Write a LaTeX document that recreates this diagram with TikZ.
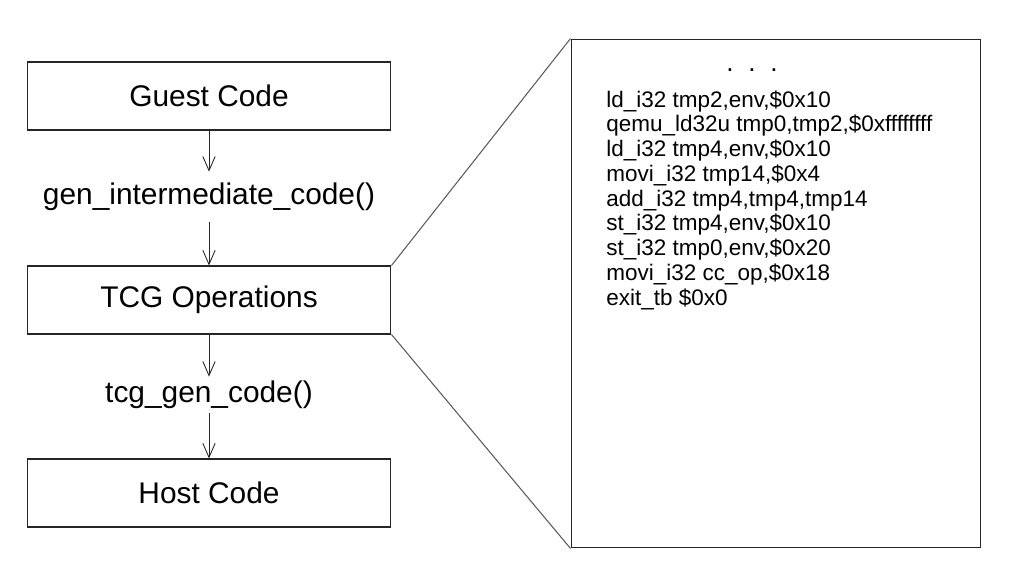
\documentclass[tikz,border=0pt]{standalone}
\usepackage{fontspec}
\setmainfont{Liberation Sans}
\usetikzlibrary{arrows.meta,positioning}
\definecolor{linegray}{RGB}{90,90,90}

\begin{document}
\begin{tikzpicture}[
    x=0.02cm, y=-0.02cm,
    stagebox/.style={
        rectangle, draw=black!85, line width=0.6pt,
        minimum width=7.28cm, minimum height=1.36cm, align=center,
        font=\fontsize{17}{20}\selectfont
    },
    fname/.style={inner sep=0pt, font=\fontsize{17}{20}\selectfont},
    arrow/.style={-{Straight Barb[length=8pt,width=7pt]}, line width=0.5pt, black!85},
    zoomline/.style={linegray, line width=0.6pt}
]
\useasboundingbox (0,0) rectangle (1018,582);

\node[stagebox] (guest) at (209,96) {Guest Code};
\node[fname, minimum height=1.0cm] (gen) at (209,197) {gen\_intermediate\_code()};
\node[stagebox] (tcg) at (209,300) {TCG Operations};
\node[fname, minimum height=0.72cm] (tcggen) at (209,395) {tcg\_gen\_code()};
\node[stagebox] (host) at (209,493) {Host Code};

\node[draw=black!85, line width=0.6pt, minimum width=8.2cm, minimum height=10.18cm] (irbox) at (776,293.5) {};
\node[inner sep=0pt, font=\fontsize{15}{15}\selectfont] (dots) at (752,70) {.\ \ .\ \ .};
\node[inner sep=0pt, anchor=north west, align=left,
      font=\fontsize{12.8}{14.1}\selectfont] (ops) at (606,90) {%
ld\_i32 tmp2,env,\$0x10\\
qemu\_ld32u tmp0,tmp2,\$0xffffffff\\
ld\_i32 tmp4,env,\$0x10\\
movi\_i32 tmp14,\$0x4\\
add\_i32 tmp4,tmp4,tmp14\\
st\_i32 tmp4,env,\$0x10\\
st\_i32 tmp0,env,\$0x20\\
movi\_i32 cc\_op,\$0x18\\
exit\_tb \$0x0};

\draw[arrow] (guest) -- (gen);
\draw[arrow] (gen) -- (tcg);
\draw[arrow] (tcg) -- (tcggen);
\draw[arrow] (tcggen) -- (host);
\draw[zoomline] (tcg.north east) -- (irbox.north west);
\draw[zoomline] (tcg.south east) -- (irbox.south west);
\end{tikzpicture}
\end{document}
